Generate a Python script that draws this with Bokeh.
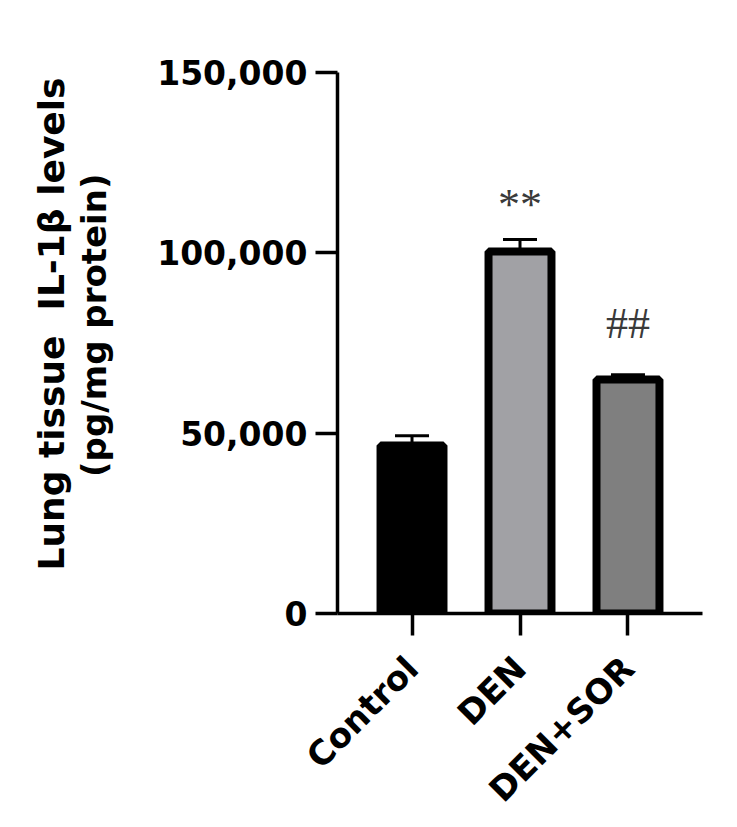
from math import pi
from bokeh.plotting import figure
from bokeh.models import (FactorRange, Range1d, ColumnDataSource, Whisker, TeeHead,
                          Title, FixedTicker)
from bokeh.core.properties import value
from bokeh.embed import file_html
from bokeh.resources import INLINE

# ---- data ----
groups = ["Control", "DEN", "DEN+SOR"]
means = [46600, 100400, 64900]
errors = [2700, 3300, 1300]
fill_colors = ["#000000", "#a1a1a5", "#7f7f7f"]
marks = ["", "**", "##"]
y_ticks = [0, 50000, 100000, 150000]
y_tick_labels = ["0", "50,000", "100,000", "150,000"]
y_title_1 = "Lung tissue\u00a0 IL-1β levels"
y_title_2 = "(pg/mg protein)"

# ---- derived ----
upper = [m + e for m, e in zip(means, errors)]
mark_offset = {"": 0, "**": 9700, "##": 14100}
mark_y = [u + mark_offset[s] for u, s in zip(upper, marks)]

src = ColumnDataSource(dict(x=groups, top=means, upper=upper, lower=means,
                            color=fill_colors, mark=marks, mark_y=mark_y))

FONT = "DejaVu Sans"

p = figure(width=720, height=827, output_backend="svg", toolbar_location=None,
           x_range=FactorRange(*groups, range_padding=0.19, range_padding_units="absolute"),
           y_range=Range1d(0, 150000),
           min_border_left=337, min_border_right=18, min_border_top=72,
           min_border_bottom=214)

p.grid.visible = False
p.outline_line_color = None
p.background_fill_color = "white"
p.border_fill_color = "white"

w = Whisker(source=src, base="x", upper="upper", lower="lower",
            line_color="black", line_width=3,
            upper_head=TeeHead(size=34, line_width=3, line_color="black"),
            lower_head=None)
p.add_layout(w)

p.vbar(x="x", top="top", bottom=0, width=0.583, source=src,
       fill_color="color", line_color="black", line_width=8)

p.text(x="x", y="mark_y", text="mark", source=src,
       text_font=value("Liberation Serif"), text_font_size="44px",
       text_color="#3a3a3a", text_align="center", text_baseline="alphabetic")

# y axis
ya = p.yaxis[0]
ya.ticker = FixedTicker(ticks=y_ticks)
ya.major_label_overrides = {t: l for t, l in zip(y_ticks, y_tick_labels)}
ya.minor_tick_line_color = None
ya.axis_line_width = 3.5
ya.major_tick_line_width = 3.5
ya.major_tick_out = 22
ya.major_tick_in = 0
ya.major_label_standoff = 8
ya.major_label_text_font = FONT
ya.major_label_text_font_style = "bold"
ya.major_label_text_font_size = "33px"
ya.major_label_text_color = "black"
# second title line as the axis label (leading spaces nudge it upward)
ya.axis_label = "\u00a0\u00a0\u00a0" + y_title_2
ya.axis_label_standoff = 40
ya.axis_label_text_font = FONT
ya.axis_label_text_font_style = "bold"
ya.axis_label_text_font_size = "34px"
ya.axis_label_text_color = "black"

# x axis
xa = p.xaxis[0]
xa.axis_line_width = 3.5
xa.major_tick_line_width = 3.5
xa.major_tick_out = 22
xa.major_tick_in = 0
xa.minor_tick_line_color = None
xa.major_label_orientation = pi / 4
xa.major_label_standoff = 27
xa.major_label_text_font = FONT
xa.major_label_text_font_style = "bold"
xa.major_label_text_font_size = "34px"
xa.major_label_text_color = "black"

t1 = Title(text=y_title_1, align="left", offset=43, standoff=0,
           text_font=FONT, text_font_style="bold", text_font_size="36px",
           text_color="black")
p.add_layout(t1, "left")

open("out.html", "w").write(file_html(p, INLINE))
